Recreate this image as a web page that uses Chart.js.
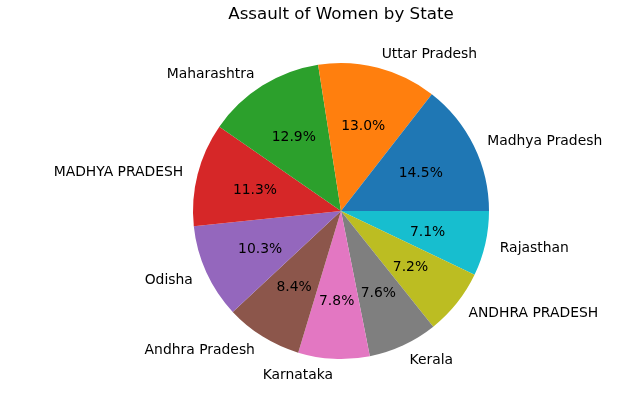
<!DOCTYPE html>
<html>
<head>
<meta charset="utf-8">
<script src="https://cdn.jsdelivr.net/npm/chart.js@4"></script>
<style>
  html, body { margin: 0; padding: 0; background: #fff; }
  #wrap { width: 640px; height: 415px; }
</style>
</head>
<body>
<div id="wrap"><canvas id="chart" width="640" height="415"></canvas></div>
<script>
// values (percent of total)
const states = ['Madhya Pradesh', 'Uttar Pradesh', 'Maharashtra', 'MADHYA PRADESH', 'Odisha',
    'Andhra Pradesh', 'Karnataka', 'Kerala', 'ANDHRA PRADESH', 'Rajasthan'];
const shares = [14.5, 13.0, 12.9, 11.3, 10.3, 8.4, 7.8, 7.6, 7.2, 7.1];
const colors = ['#1f77b4', '#ff7f0e', '#2ca02c', '#d62728', '#9467bd',
    '#8c564b', '#e377c2', '#7f7f7f', '#bcbd22', '#17becf'];
const title = 'Assault of Women by State';

// matplotlib goes counterclockwise from 3 o'clock, chart.js clockwise -> reverse order
const labels = [...states].reverse();
const values = [...shares].reverse();
const bg = [...colors].reverse();

const FONT = '"DejaVu Sans", sans-serif';

const pieText = {
    id: 'pieText',
    afterDraw(chart) {
        const ctx = chart.ctx;
        const meta = chart.getDatasetMeta(0);
        const total = values.reduce((a, b) => a + b, 0);
        const dy = 1.5; // small baseline nudge
        ctx.save();
        ctx.fillStyle = '#000';
        meta.data.forEach((arc, i) => {
            const mid = (arc.startAngle + arc.endAngle) / 2;
            const r = arc.outerRadius;
            const c = Math.cos(mid), s = Math.sin(mid);
            // outer label
            ctx.font = '13.9px ' + FONT;
            ctx.textBaseline = 'middle';
            ctx.textAlign = c >= 0 ? 'left' : 'right';
            ctx.fillText(labels[i], arc.x + c * r * 1.1, arc.y + s * r * 1.1 + dy);
            // percentage
            ctx.textAlign = 'center';
            const pct = (values[i] / total * 100).toFixed(1) + '%';
            ctx.fillText(pct, arc.x + c * r * 0.6, arc.y + s * r * 0.6 + dy);
        });
        // title
        ctx.font = '16.7px ' + FONT;
        ctx.textAlign = 'center';
        ctx.textBaseline = 'alphabetic';
        ctx.fillText(title, 341, 19);
        ctx.restore();
    }
};

new Chart(document.getElementById('chart'), {
    type: 'pie',
    data: {
        labels: labels,
        datasets: [{
            data: values,
            backgroundColor: bg,
            borderWidth: 0
        }]
    },
    options: {
        responsive: false,
        animation: false,
        rotation: 90,
        layout: { padding: { left: 193, right: 151, top: 63, bottom: 56 } },
        plugins: {
            legend: { display: false },
            tooltip: { enabled: false }
        }
    },
    plugins: [pieText]
});
</script>
</body>
</html>
